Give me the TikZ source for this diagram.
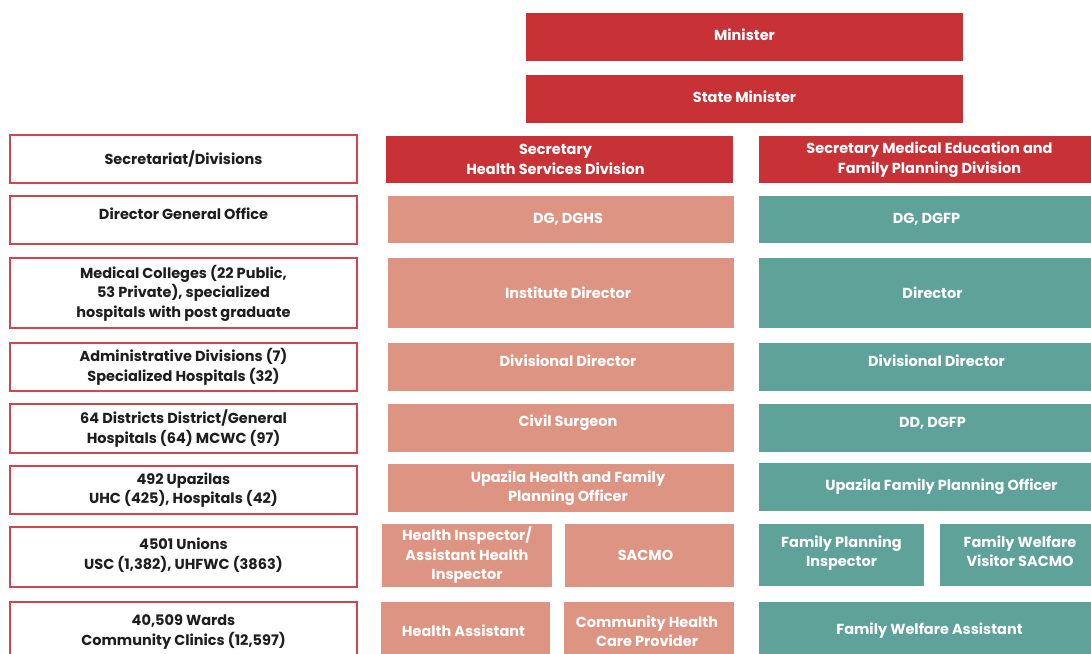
\documentclass[tikz,border=0pt]{standalone}
\usepackage{fontspec}
\setmainfont{Poppins}
\definecolor{cred}{RGB}{200,50,55}
\definecolor{csal}{RGB}{222,148,130}
\definecolor{cteal}{RGB}{95,162,153}
\definecolor{cbord}{RGB}{205,70,80}
\definecolor{ctext}{RGB}{30,30,30}
% #1 text shift options, #2 style, #3 name, #4 x1, #5 y1, #6 x2, #7 y2, #8 text
\newcommand\bx[8][yshift=0pt]{%
  \node[#2, minimum width={(#6-#4)*1pt}, minimum height={(#7-#5)*1pt}] (#3) at ({(#4+#6)/2},{(#5+#7)/2}) {};
  \node[#2, fill=none, draw=none, minimum width=0pt, minimum height=0pt] (#3-t) at ([#1]#3.center) {#8};}
\begin{document}
\begin{tikzpicture}[x=1pt,y=-1pt,
  box/.style={inner sep=0pt, outer sep=0pt, align=center, font=\fontsize{14.5}{19.5}\selectfont\bfseries},
  redbox/.style={box, fill=cred, text=white},
  salbox/.style={box, fill=csal, text=white},
  tealbox/.style={box, fill=cteal, text=white},
  lvlbox/.style={box, draw=cbord, line width=1.3pt, fill=white, text=ctext}]
\useasboundingbox (0,0) rectangle (1091,653);
% top
\bx[yshift=2pt]{redbox}{min}{526}{13}{963}{61}{Minister}
\bx[yshift=2pt]{redbox}{smin}{526}{75}{963}{123}{State Minister}
% left level column
\bx{lvlbox}{l1}{10}{135}{357}{183}{Secretariat/Divisions}
\bx[yshift=6pt]{lvlbox}{l2}{10}{196}{357}{244}{Director General Office}
\bx{lvlbox}{l3}{10}{258}{357}{328}{Medical Colleges (22 Public,\\53 Private), specialized\\hospitals with post graduate}
\bx{lvlbox}{l4}{10}{343}{357}{391}{Administrative Divisions (7)\\Specialized Hospitals (32)}
\bx{lvlbox}{l5}{10}{404}{357}{453}{64 Districts District/General\\Hospitals (64) MCWC (97)}
\bx{lvlbox}{l6}{10}{466}{357}{514}{492 Upazilas\\UHC (425), Hospitals (42)}
\bx[yshift=2pt]{lvlbox}{l7}{10}{527}{357}{587}{4501 Unions\\USC (1,382), UHFWC (3863)}
\bx{lvlbox}{l8}{10}{602}{357}{662}{40,509 Wards\\Community Clinics (12,597)}
% health services column
\bx[xshift=-4pt]{redbox}{h1}{386}{136}{733}{183}{Secretary\\Health Services Division}
\bx[xshift=7pt]{salbox}{h2}{388}{196}{734}{243}{DG, DGHS}
\bx[xshift=7pt]{salbox}{h3}{388}{258}{734}{328}{Institute Director}
\bx[xshift=7pt,yshift=6pt]{salbox}{h4}{388}{343}{734}{391}{Divisional Director}
\bx[xshift=7pt,yshift=5pt]{salbox}{h5}{388}{404}{734}{452}{Civil Surgeon}
\bx[xshift=7pt]{salbox}{h6}{388}{464}{734}{512}{Upazila Health and Family\\Planning Officer}
\bx{salbox}{h7a}{382}{524}{552}{587}{Health Inspector/\\Assistant Health\\Inspector}
\bx[xshift=-4pt]{salbox}{h7b}{565}{524}{734}{587}{SACMO}
\bx[xshift=-2pt]{salbox}{h8a}{381}{602}{550}{660}{Health Assistant}
\bx[xshift=-2pt]{salbox}{h8b}{564}{602}{734}{660}{Community Health\\Care Provider}
% family planning column
\bx{redbox}{f1}{759}{136}{1100}{183}{Secretary Medical Education and\\Family Planning Division}
\bx[xshift=-3pt]{tealbox}{f2}{759}{196}{1100}{243}{DG, DGFP}
\bx[xshift=3pt]{tealbox}{f3}{759}{258}{1100}{328}{Director}
\bx[xshift=7pt,yshift=6pt]{tealbox}{f4}{759}{343}{1100}{391}{Divisional Director}
\bx[xshift=3pt,yshift=5pt]{tealbox}{f5}{759}{404}{1100}{452}{DD, DGFP}
\bx[xshift=12pt]{tealbox}{f6}{759}{463}{1100}{511}{Upazila Family Planning Officer}
\bx[yshift=2pt]{tealbox}{f7a}{759}{524}{924}{586}{Family Planning\\Inspector}
\bx[yshift=4pt]{tealbox}{f7b}{940}{524}{1100}{586}{Family Welfare\\Visitor SACMO}
\bx{tealbox}{f8}{759}{602}{1100}{660}{Family Welfare Assistant}
\end{tikzpicture}
\end{document}
